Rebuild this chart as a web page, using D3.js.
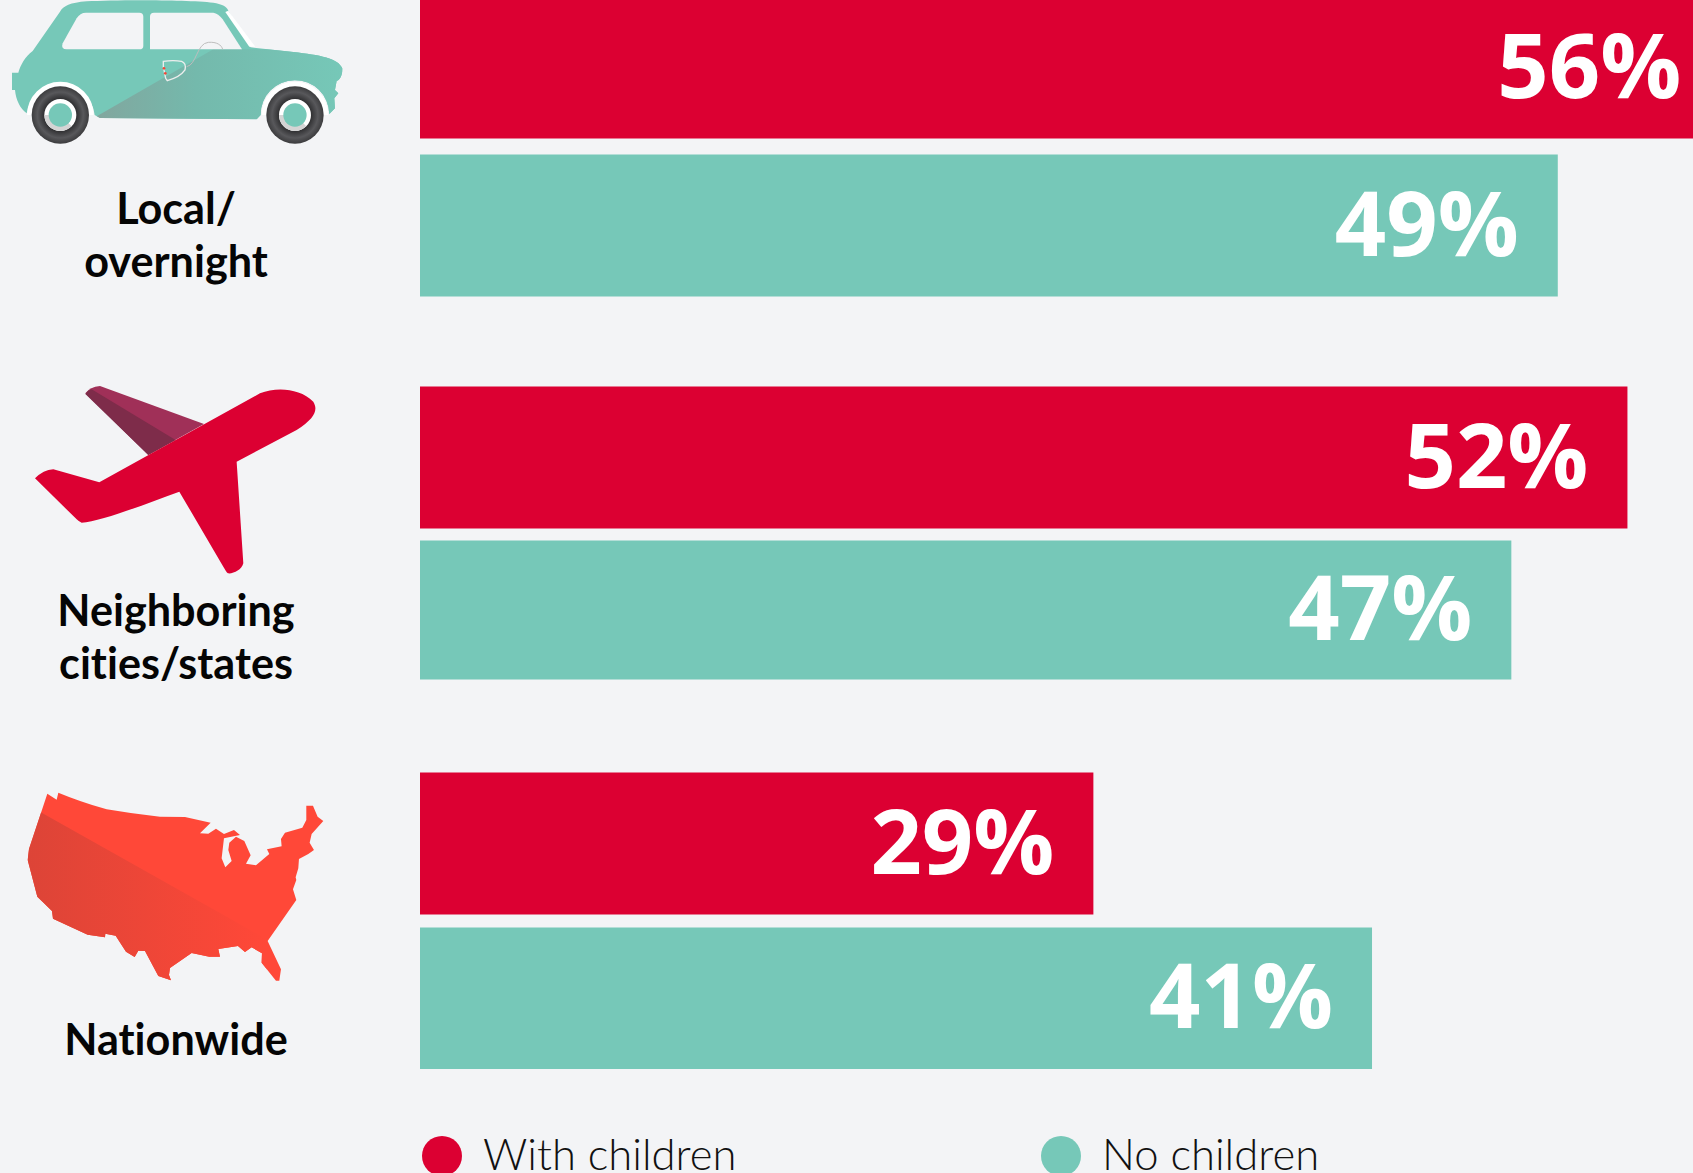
<!DOCTYPE html>
<html>
<head>
<meta charset="utf-8">
<script src="https://cdn.jsdelivr.net/npm/d3@7/dist/d3.min.js"></script>
<style>
  html, body { margin: 0; padding: 0; background: #f3f4f6; overflow: hidden; }
  svg { display: block; font-family: Lato, sans-serif; font-variant-ligatures: none; }
</style>
</head>
<body>
<svg id="chart" width="1693" height="1173"></svg>
<script>
// Share of travellers by trip distance
const categories = ["Local/overnight", "Neighboring cities/states", "Nationwide"];
const categoryLines = [["Local/", "overnight"], ["Neighboring", "cities/states"], ["Nationwide"]];
const seriesNames = ["With children", "No children"];
const withChildren = [56, 52, 29];
const noChildren = [49, 47, 41];
const seriesColors = ["#dc0032", "#76c8b8"];

const svg = d3.select("#chart");
const W = 1693, H = 1173;

const x = d3.scaleLinear().domain([0, 100]).range([420, 2742]);
const color = d3.scaleOrdinal().domain(seriesNames).range(seriesColors);
const labelInset = 39;

// Vertical band for each bar, keyed by category and series
const barKeys = categories.flatMap(c => seriesNames.map(s => c + "|" + s));
const barTop = d3.scaleOrdinal().domain(barKeys).range([-3.5, 154.5, 386.5, 540.5, 772.5, 927.5]);
const barBottom = d3.scaleOrdinal().domain(barKeys).range([138.5, 296.5, 528.5, 679.5, 914.5, 1069]);

svg.append("rect").attr("width", W).attr("height", H).attr("fill", "#f3f4f6");

const defs = svg.append("defs");
function hGradient(id, stops) {
  const g = defs.append("linearGradient").attr("id", id);
  stops.forEach(([o, c]) => g.append("stop").attr("offset", o).attr("stop-color", c));
}
hGradient("carShade", [[0, "#82a69e"], [0.4, "#74b9ac"], [1, "#76c8b8"]]);
hGradient("mapShade", [[0, "#dc4437"], [1, "#ff4838"]]);
const tyre = defs.append("radialGradient").attr("id", "tyre");
tyre.append("stop").attr("offset", 0.55).attr("stop-color", "#2f2f31");
tyre.append("stop").attr("offset", 0.8).attr("stop-color", "#58585b");
tyre.append("stop").attr("offset", 1).attr("stop-color", "#3c3c3e");

// Bars and their value labels
const rows = categories.flatMap((c, i) => [
  { key: c + "|" + seriesNames[0], series: seriesNames[0], value: withChildren[i] },
  { key: c + "|" + seriesNames[1], series: seriesNames[1], value: noChildren[i] }
]);
const bars = svg.append("g").selectAll("g").data(rows).join("g");
bars.append("rect")
  .attr("x", x(0))
  .attr("y", d => barTop(d.key))
  .attr("width", d => x(d.value) - x(0))
  .attr("height", d => barBottom(d.key) - barTop(d.key))
  .attr("fill", d => color(d.series));
bars.append("text")
  .attr("x", d => x(d.value) - labelInset)
  .attr("y", d => (barTop(d.key) + barBottom(d.key)) / 2 + 30)
  .attr("text-anchor", "end")
  .attr("font-family", "'Open Sans', sans-serif")
  .attr("font-size", 90)
  .attr("font-weight", 700)
  .attr("fill", "#fff")
  .text(d => d.value + "%");

// Category captions under the icons
const captionBaselines = [[224, 277], [626, 679], [1055]];
categoryLines.forEach((lines, i) => {
  lines.forEach((line, j) => {
    svg.append("text")
      .attr("x", 176)
      .attr("y", captionBaselines[i][j])
      .attr("text-anchor", "middle")
      .attr("font-size", 43.2)
      .attr("font-weight", 700)
      .attr("fill", "#050505")
      .text(line);
  });
});

// Car icon
const carBody = "M36,218 L55,218 C62,195 75,170 98,153 L180,35 C190,18 210,8 260,4 C350,-1 560,-1 640,8 C665,12 680,18 685,32 L752,142 L880,156 C960,165 1015,175 1027,205 C1028,225 1020,240 1010,243 L1005,270 L1015,280 L1003,295 L1005,325 L988,342 A103,103 0 0 0 782,345 L770,358 L300,354 L284,345 A103,103 0 0 0 80,340 C60,325 48,300 45,270 L36,270 Z";
const car = svg.append("g").attr("transform", "scale(0.3333)");
defs.append("clipPath").attr("id", "carClip").append("path").attr("d", carBody);
car.append("path").attr("d", carBody).attr("fill", "#76c8b8");
car.append("path").attr("clip-path", "url(#carClip)")
  .attr("d", "M285,352 L640,148 L1040,148 L1040,362 L285,362 Z")
  .attr("fill", "url(#carShade)");
car.append("path").attr("fill", "#f3f4f6")
  .attr("d", "M258,38 L418,38 Q430,38 430,50 L430,138 Q430,148 418,148 L200,148 Q182,148 188,130 L230,55 Q240,38 258,38 Z");
car.append("path").attr("fill", "#f3f4f6")
  .attr("d", "M450,50 Q450,38 462,38 L640,38 Q655,40 668,58 L726,148 L450,148 Z");
car.append("path").attr("fill", "#fff").attr("d", "M676,36 L685,32 L766,140 L748,140 Z");
car.append("path").attr("fill", "none").attr("stroke", "#bdbdbd").attr("stroke-width", 3)
  .attr("d", "M560,200 C590,195 590,130 625,127 C650,125 665,135 668,148");
car.append("path").attr("fill", "none").attr("stroke", "#eeeeee").attr("stroke-width", 4)
  .attr("d", "M490,184 Q520,180 545,184 Q560,190 555,210 Q540,232 502,242 L497,235 L490,200 Z");
[[492, 205], [496, 220]].forEach(([cx, cy]) =>
  car.append("circle").attr("cx", cx).attr("cy", cy).attr("r", 4).attr("fill", "#ef4a3a"));
[181, 885].forEach(cx => {
  car.append("path").attr("fill", "none").attr("stroke", "#fff").attr("stroke-width", 14)
    .attr("d", `M${cx - 93},345 A93,93 0 0 1 ${cx + 93},345`);
  car.append("circle").attr("cx", cx).attr("cy", 345).attr("r", 86).attr("fill", "url(#tyre)");
  car.append("circle").attr("cx", cx).attr("cy", 345).attr("r", 48).attr("fill", "#fff");
  car.append("path").attr("fill", "#d4d4d4")
    .attr("d", `M${cx - 48},345 A48,48 0 0 0 ${cx + 34},379 L${cx},345 Z`);
  car.append("circle").attr("cx", cx).attr("cy", 345).attr("r", 35).attr("fill", "#76c8b8");
});

// Plane icon
const plane = svg.append("g").attr("transform", "translate(0,370) scale(0.3333)");
plane.append("path").attr("fill", "#a03058")
  .attr("d", "M256,70 Q270,50 300,48 L612,162 L445,255 Z");
plane.append("path").attr("fill", "#7e2c4a")
  .attr("d", "M256,72 Q262,62 275,58 L527,210 L445,255 Z");
plane.append("path").attr("fill", "#dc0032")
  .attr("d", "M105,325 Q130,300 160,298 L298,337 L780,70 C830,50 900,55 940,95 C955,120 945,145 890,180 L710,275 L730,580 C725,600 700,612 684,610 C680,608 676,600 670,590 L538,365 C430,405 300,455 245,458 Q238,456 230,448 Z");

// Map icon
const mapOutline = "M142,71 L170,89 L175,68 Q240,95 320,118 Q400,132 480,140 L555,141 L632,158 L600,190 L625,191 L648,176 L672,192 L702,180 L720,195 L672,205 L665,265 L676,292 L695,273 L685,240 L688,218 L708,200 L733,213 L752,256 L738,281 L768,286 L808,252 L801,238 L845,229 L843,207 L855,188 L907,173 L919,150 L919,107 L939,107 L953,140 L970,153 L935,192 L929,218 L942,240 L925,252 L897,267 L895,295 L887,322 L889,330 L879,358 L889,390 L803,513 L843,598 L838,632 L828,632 L785,578 L786,550 L755,532 L735,546 L714,528 L655,537 L660,560 L628,560 L575,549 L510,594 L507,615 L513,631 L475,618 L435,543 L415,542 L404,561 L378,545 L347,497 L316,491 L315,502 L263,494 L159,446 L156,423 L112,380 L83,270 L87,237 Z";
const map = svg.append("g").attr("transform", "translate(0,770) scale(0.3333)");
defs.append("clipPath").attr("id", "mapClip").append("path").attr("d", mapOutline);
map.append("path").attr("d", mapOutline).attr("fill", "#ff4838");
map.append("path").attr("clip-path", "url(#mapClip)")
  .attr("d", "M70,97 L125,128 L800,508 L800,650 L70,650 Z")
  .attr("fill", "url(#mapShade)");

// Legend
const legendX = d3.scaleOrdinal().domain(seriesNames).range([442, 1061]);
const legend = svg.append("g").selectAll("g").data(seriesNames).join("g");
legend.append("circle")
  .attr("cx", d => legendX(d)).attr("cy", 1156).attr("r", 20)
  .attr("fill", d => color(d));
legend.append("text")
  .attr("x", d => legendX(d) + 41).attr("y", 1170)
  .attr("font-size", 43.6).attr("font-weight", 300).attr("fill", "#111")
  .text(d => d);
</script>
</body>
</html>
